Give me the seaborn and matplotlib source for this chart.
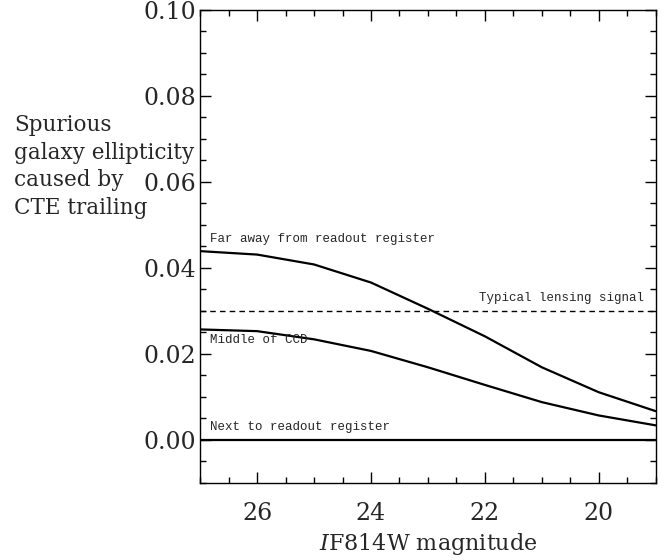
import numpy as np
import pandas as pd
import matplotlib.pyplot as plt
import seaborn as sns
from matplotlib.ticker import MultipleLocator

# === Dados ===
magnitude = [27, 26, 25, 24, 23, 22, 21, 20, 19]
far_away = [0.0439, 0.0431, 0.0408, 0.0366, 0.0305, 0.0241, 0.0169, 0.0111, 0.0067]
middle_ccd = [0.0257, 0.0253, 0.0234, 0.0207, 0.0169, 0.0128, 0.0088, 0.0057, 0.0034]
next_to = [0.0, 0.0, 0.0, 0.0, 0.0, 0.0, 0.0, 0.0, 0.0]
lensing_signal = 0.03
ylabel_lines = ["Spurious", "galaxy ellipticity", "caused by", "CTE trailing"]

df = pd.DataFrame({
    "mag": magnitude * 3,
    "ell": far_away + middle_ccd + next_to,
    "pos": ["far"] * 9 + ["middle"] * 9 + ["next"] * 9,
})

sns.set_style("ticks")
plt.rcParams["font.family"] = ["DejaVu Serif"]
plt.rcParams["mathtext.fontset"] = "dejavuserif"

fig = plt.figure(figsize=(6.65, 5.6), dpi=100)
ax = fig.add_axes([0.301, 0.1375, 0.685, 0.845])

sns.lineplot(data=df, x="mag", y="ell", units="pos", estimator=None,
             color="black", linewidth=1.6, ax=ax)
ax.axhline(lensing_signal, color="black", linestyle=(0, (4, 3)), linewidth=1.0)

ax.set_xlim(27, 19)
ax.set_ylim(-0.01, 0.10)
ax.xaxis.set_major_locator(MultipleLocator(2))
ax.xaxis.set_minor_locator(MultipleLocator(0.5))
ax.yaxis.set_major_locator(MultipleLocator(0.02))
ax.yaxis.set_minor_locator(MultipleLocator(0.005))
ax.yaxis.set_major_formatter(plt.FuncFormatter(lambda v, p: f"{v:.2f}"))
ax.tick_params(which="both", direction="in", top=True, right=True,
               labelsize=17, color="black", width=1.0)
ax.tick_params(which="major", length=8)
ax.tick_params(which="minor", length=4)
ax.tick_params(axis="x", which="major", pad=14)
ax.tick_params(axis="y", which="major", pad=3)
for s in ax.spines.values():
    s.set_linewidth(1.0)
    s.set_color("black")

ax.set_xlabel(r"$I$F814W magnitude", fontsize=16, labelpad=4)
ax.set_ylabel("")
# rótulo do eixo y, uma linha de cada vez
for i, linha in enumerate(ylabel_lines):
    fig.text(0.021, 1 - (125 + 27.7 * i) / 560, linha,
             ha="left", va="center", fontsize=15.5)

mono = "Liberation Mono"
ax.text(26.82, 0.0453, "Far away from readout register", family=mono,
        fontsize=9.0, ha="left", va="bottom")
ax.text(19.2, 0.0315, "Typical lensing signal", family=mono,
        fontsize=9.0, ha="right", va="bottom")
ax.text(26.82, 0.0247, "Middle of CCD", family=mono,
        fontsize=9.0, ha="left", va="top")
ax.text(26.82, 0.0016, "Next to readout register", family=mono,
        fontsize=9.0, ha="left", va="bottom")

fig.savefig("out.png", dpi=100)
